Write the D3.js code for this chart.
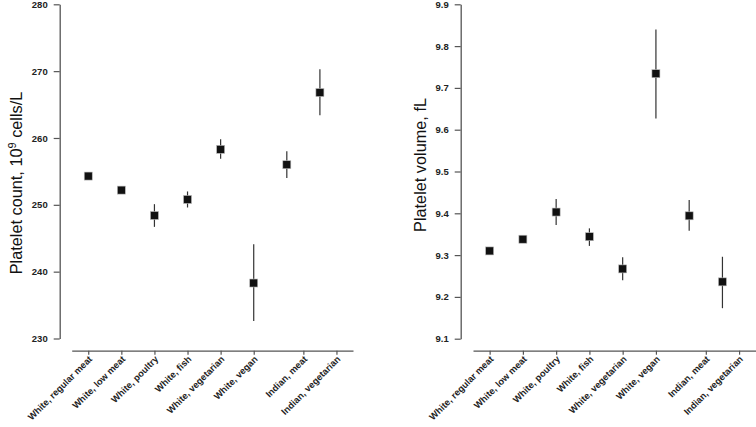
<!DOCTYPE html>
<html><head><meta charset="utf-8">
<script src="https://cdn.jsdelivr.net/npm/d3@7"></script>
<style>
body{margin:0;background:#fff;}
svg{display:block;font-family:"Liberation Sans",Arial,sans-serif;}
</style></head>
<body>
<svg id="c" width="756" height="427"></svg>
<script>
const categories = ["White, regular meat","White, low meat","White, poultry","White, fish","White, vegetarian","White, vegan","Indian, meat","Indian, vegetarian"];
// tick label positions on the x axis (as drawn in the original)
const tickPositions = [0,1,2,3,4,5,6.5,7.5];
// point positions
const pointPositions = [0,1,2,3,4,5,6,7];

const countMean = [254.3,252.2,248.4,250.8,258.3,238.3,256.0,266.8];
const countLow  = [253.8,251.7,246.7,249.6,256.9,232.6,254.0,263.4];
const countHigh = [254.8,252.7,250.1,252.0,259.8,244.1,258.0,270.3];
const countTicks = [230,240,250,260,270,280];

const volMean = [9.310,9.338,9.403,9.344,9.267,9.734,9.394,9.236];
const volLow  = [9.303,9.331,9.372,9.322,9.240,9.627,9.358,9.173];
const volHigh = [9.317,9.345,9.434,9.364,9.295,9.840,9.432,9.296];
const volTicks = [9.1,9.2,9.3,9.4,9.5,9.6,9.7,9.8,9.9];

const svg = d3.select("#c");
const axisColor = "#555";

function panel(cfg){
  const g = svg.append("g");
  const x = d3.scaleLinear().domain([-0.5,8]).range([cfg.x0,cfg.x1]);
  const y = d3.scaleLinear().domain(cfg.domain).range([cfg.yb,cfg.yt]);
  // y axis
  const ya = g.append("g").attr("transform",`translate(${cfg.yAxisX},0)`)
    .call(d3.axisLeft(y).tickValues(cfg.ticks).tickFormat(cfg.fmt).tickSize(6).tickSizeOuter(0).tickPadding(6));
  ya.select(".domain").attr("stroke",axisColor).attr("stroke-width",1.3);
  ya.selectAll(".tick line").attr("stroke",axisColor).attr("stroke-width",1.2);
  ya.selectAll(".tick text").attr("font-size",9.5).attr("font-weight","bold").attr("fill","#222")
    .attr("font-family","'Liberation Sans',Arial,sans-serif");
  // x axis
  const xa = g.append("g").attr("transform",`translate(0,${cfg.xAxisY})`)
    .call(d3.axisBottom(x).tickValues(tickPositions).tickFormat((d,i)=>categories[i]).tickSize(4).tickSizeOuter(0));
  xa.select(".domain").attr("stroke",axisColor).attr("stroke-width",1.3);
  xa.selectAll(".tick line").attr("stroke",axisColor).attr("stroke-width",1.2);
  xa.selectAll(".tick text").attr("font-size",9.3).attr("font-weight","bold").attr("fill","#222")
    .attr("font-family","'Liberation Sans',Arial,sans-serif")
    .attr("text-anchor","end").attr("dy",null).attr("y",null)
    .attr("transform","translate(4,9) rotate(-45)");
  // error bars
  g.selectAll("line.err").data(cfg.mean).join("line").attr("class","err")
    .attr("x1",(d,i)=>x(pointPositions[i])).attr("x2",(d,i)=>x(pointPositions[i]))
    .attr("y1",(d,i)=>y(cfg.low[i])).attr("y2",(d,i)=>y(cfg.high[i]))
    .attr("stroke","#333").attr("stroke-width",1.2);
  // markers
  const s = 8;
  g.selectAll("rect.pt").data(cfg.mean).join("rect").attr("class","pt")
    .attr("x",(d,i)=>x(pointPositions[i])-s/2).attr("y",d=>y(d)-s/2)
    .attr("width",s).attr("height",s).attr("fill","#111").attr("stroke","#bbb").attr("stroke-width",0.6);
  // y label
  const lbl = g.append("text").attr("transform",`translate(${cfg.labelX},${cfg.labelY}) rotate(-90)`)
    .attr("text-anchor","middle").attr("font-size",16.3).attr("fill","#111");
  cfg.label(lbl);
}

panel({x0:71.7,x1:353,yAxisX:59.7,xAxisY:350.7,yb:338.5,yt:4.3,domain:[230,280],ticks:countTicks,fmt:d3.format("d"),
  mean:countMean,low:countLow,high:countHigh,labelX:21.5,labelY:183,
  label:t=>{t.append("tspan").text("Platelet count, 10");t.append("tspan").attr("font-size",11).attr("dy",-6).text("9");t.append("tspan").attr("dy",6).text(" cells/L");}});
panel({x0:473,x1:755.7,yAxisX:460.7,xAxisY:350.7,yb:338.7,yt:4.3,domain:[9.1,9.9],ticks:volTicks,fmt:d3.format(".1f"),
  mean:volMean,low:volLow,high:volHigh,labelX:426,labelY:165,
  label:t=>{t.text("Platelet volume, fL");}});
</script>
</body></html>
